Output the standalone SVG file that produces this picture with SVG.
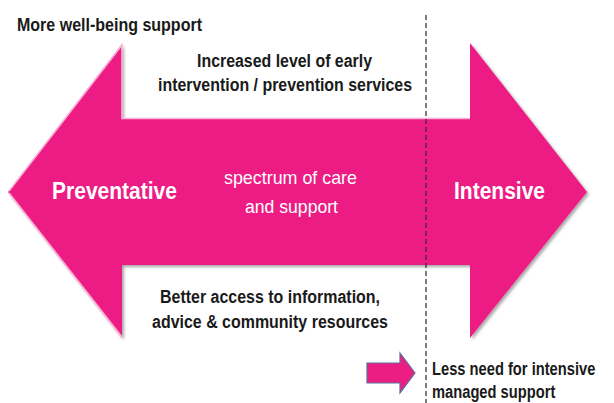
<svg xmlns="http://www.w3.org/2000/svg" width="614" height="403" viewBox="0 0 614 403">
<defs>
<filter id="sh" x="-5%" y="-5%" width="112%" height="115%">
<feGaussianBlur in="SourceAlpha" stdDeviation="1.5"/>
<feOffset dx="1.5" dy="2" result="b"/>
<feComponentTransfer><feFuncA type="linear" slope="0.35"/></feComponentTransfer>
<feMerge><feMergeNode/><feMergeNode in="SourceGraphic"/></feMerge>
</filter>
</defs>
<style>
.pink{fill:#EC1E84}
.hl{fill:none;stroke:#F9B3D6;stroke-width:1.6}
.t{font-family:"Liberation Sans",Arial,sans-serif;font-weight:bold;fill:#1a1a1a;font-size:17.5px}
.w{font-family:"Liberation Sans",Arial,sans-serif;fill:#ffffff}
.dash{stroke:#333;stroke-width:1.3;stroke-dasharray:5 3;fill:none}
</style>
<rect width="614" height="403" fill="#ffffff"/>
<g id="big-arrow">
<polygon class="pink" filter="url(#sh)" points="8,192 122,44 122,118 470,118 470,43 587,192 470,338 470,265 122,265 122,338"/>
<polyline class="hl" points="9,191 122,45 122,118.5 470,118.5"/>
<polyline class="hl" points="9,193 122,337"/>
<text class="w" x="52" y="199" font-size="24.5" font-weight="bold" textLength="125" lengthAdjust="spacingAndGlyphs">Preventative</text>
<text class="w" x="454" y="199" font-size="24.5" font-weight="bold" textLength="91" lengthAdjust="spacingAndGlyphs">Intensive</text>
<text class="w" x="224" y="184" font-size="19" textLength="133" lengthAdjust="spacingAndGlyphs">spectrum of care</text>
<text class="w" x="245" y="213" font-size="19" textLength="93" lengthAdjust="spacingAndGlyphs">and support</text>
</g>
<g id="labels">
<text class="t" x="17" y="31" textLength="185" lengthAdjust="spacingAndGlyphs">More well-being support</text>
<text class="t" x="197" y="67" textLength="175" lengthAdjust="spacingAndGlyphs">Increased level of early</text>
<text class="t" x="158" y="91" textLength="254" lengthAdjust="spacingAndGlyphs">intervention / prevention services</text>
<text class="t" x="160" y="303" textLength="220" lengthAdjust="spacingAndGlyphs">Better access to information,</text>
<text class="t" x="152" y="328" textLength="236" lengthAdjust="spacingAndGlyphs">advice &amp; community resources</text>
</g>
<g id="less-need" transform="translate(432,0) scale(0.84,1)">
<text class="t" x="0" y="375">Less need for intensive</text>
<text class="t" x="0" y="398">managed support</text>
</g>
<g id="connectors">
<line class="dash" x1="426" y1="15" x2="426" y2="403"/>
</g>
<g id="small-arrow">
<polygon class="pink" stroke="#5B6E9C" stroke-width="1.2" points="367,363 400,363 400,353 415,373 400,393 400,383 367,383"/>
</g>
</svg>
